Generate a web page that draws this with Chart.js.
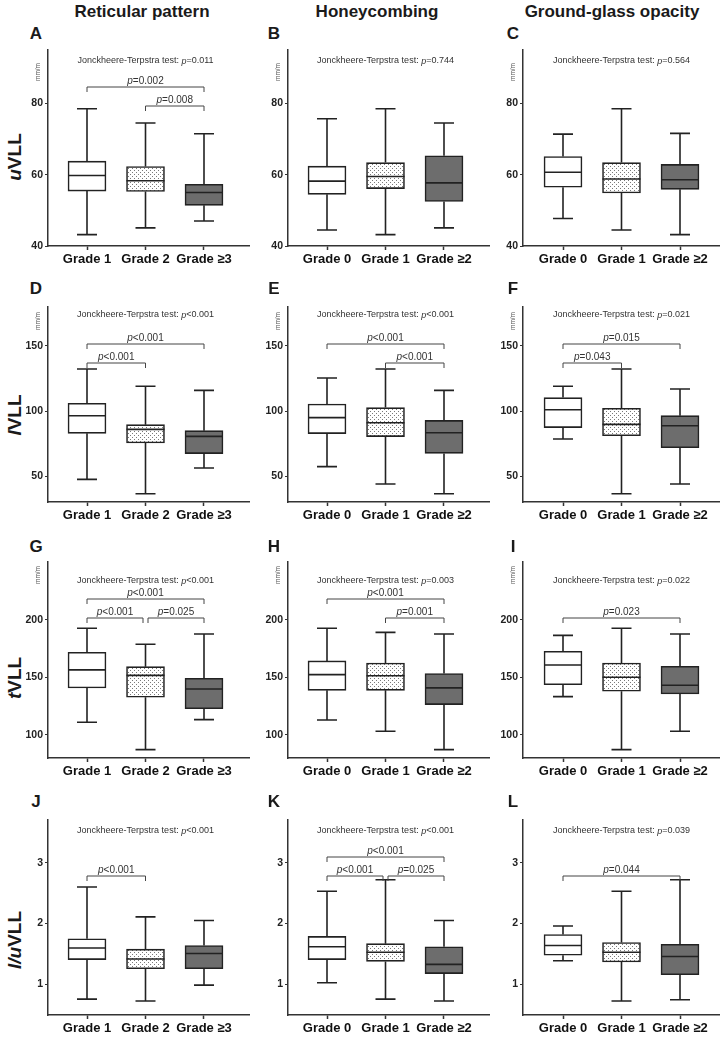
<!DOCTYPE html>
<html>
<head>
<meta charset="utf-8">
<script src="https://cdn.jsdelivr.net/npm/chart.js@4.4.1/dist/chart.umd.min.js"></script>
<style>
  body { margin: 0; background: #fff; }
  #wrap { position: relative; width: 722px; height: 1039px; overflow: hidden; font-family: "Liberation Sans", Arial, sans-serif; color: #1a1a1a; }
  #wrap canvas { position: absolute; }
  .ttl, .let, .ytl { position: absolute; transform: translate(-50%, -50%); white-space: nowrap; font-weight: bold; }
  .ttl { top: 12px; font-size: 17px; }
  .let { font-size: 17px; }
  .ytl { font-size: 19px; transform: translate(-50%, -50%) rotate(-90deg); }
</style>
</head>
<body>
<div id="wrap">
  <div class="ttl" style="left:142px">Reticular pattern</div>
  <div class="ttl" style="left:377px">Honeycombing</div>
  <div class="ttl" style="left:612px">Ground-glass opacity</div>
  <div class="ytl" style="left:15px;top:157px"><i>u</i>VLL</div>
  <div class="ytl" style="left:15px;top:415px"><i>l</i>VLL</div>
  <div class="ytl" style="left:15px;top:678px"><i>t</i>VLL</div>
  <div class="ytl" style="left:15px;top:940px"><i>l/u</i>VLL</div>
</div>
<script>
// group labels
var gradesRet = ['Grade 1', 'Grade 2', 'Grade \u22653'];
var gradesOther = ['Grade 0', 'Grade 1', 'Grade \u22652'];

// each group: [whisker low, Q1, median, Q3, whisker high]
var boxA = [[43.2, 55.4, 59.8, 63.8, 78.5], [45.1, 55.3, 58.3, 62.3, 74.5], [47.0, 51.4, 55.0, 57.3, 71.5]];
var boxB = [[44.5, 54.5, 58.2, 62.4, 75.7], [43.2, 56.1, 59.5, 63.4, 78.5], [45.1, 52.5, 57.7, 65.3, 74.5]];
var boxC = [[47.7, 56.5, 60.7, 65.1, 71.4], [44.5, 54.9, 58.8, 63.4, 78.5], [43.2, 55.9, 58.6, 62.9, 71.6]];
var boxD = [[47.4, 82.8, 96.4, 105.9, 132.3], [36.4, 75.4, 85.9, 89.5, 119.0], [56.2, 67.2, 80.5, 84.9, 115.9]];
var boxE = [[57.2, 82.6, 94.9, 105.4, 125.4], [43.8, 80.3, 91.0, 102.6, 132.3], [36.4, 67.4, 83.3, 92.8, 115.9]];
var boxF = [[78.5, 87.2, 101.0, 110.3, 119.0], [36.4, 81.0, 89.7, 102.1, 132.3], [43.8, 71.8, 88.7, 96.4, 116.9]];
var boxG = [[111.0, 140.8, 156.4, 171.7, 192.5], [87.3, 132.7, 151.7, 159.2, 178.6], [113.3, 122.8, 139.9, 149.1, 187.6]];
var boxH = [[113.0, 138.7, 152.3, 164.2, 192.5], [103.2, 138.7, 151.4, 162.4, 189.0], [87.3, 126.3, 140.8, 153.2, 187.6]];
var boxI = [[133.2, 143.6, 160.7, 172.5, 186.4], [87.3, 137.9, 150.0, 162.4, 192.5], [103.2, 135.5, 143.1, 159.5, 187.6]];
var boxJ = [[0.76, 1.41, 1.60, 1.75, 2.60], [0.73, 1.26, 1.42, 1.58, 2.11], [0.99, 1.26, 1.51, 1.64, 2.05]];
var boxK = [[1.03, 1.41, 1.62, 1.79, 2.53], [0.76, 1.38, 1.53, 1.67, 2.72], [0.73, 1.18, 1.33, 1.62, 2.05]];
var boxL = [[1.39, 1.48, 1.64, 1.82, 1.96], [0.73, 1.37, 1.53, 1.69, 2.53], [0.75, 1.16, 1.46, 1.66, 2.72]];

// Jonckheere-Terpstra p per panel
var jtP = ['=0.011', '=0.744', '=0.564', '<0.001', '<0.001', '=0.021', '<0.001', '=0.003', '=0.022', '<0.001', '<0.001', '=0.039'];

// pairwise brackets [from group, to group, p]
var brA = [[1, 3, '=0.002'], [2, 3, '=0.008']];
var brB = [];
var brC = [];
var brD = [[1, 3, '<0.001'], [1, 2, '<0.001']];
var brE = [[1, 3, '<0.001'], [2, 3, '<0.001']];
var brF = [[1, 3, '=0.015'], [1, 2, '=0.043']];
var brG = [[1, 3, '<0.001'], [1, 2, '<0.001'], [2, 3, '=0.025']];
var brH = [[1, 3, '<0.001'], [2, 3, '=0.001']];
var brI = [[1, 3, '=0.023']];
var brJ = [[1, 2, '<0.001']];
var brK = [[1, 3, '<0.001'], [1, 2, '<0.001'], [2, 3, '=0.025']];
var brL = [[1, 3, '=0.044']];

// y axis per row
var yMin = [40, 30, 80, 0.5];
var yMax = [95, 180, 250, 3.7];
var yTicks = [[40, 60, 80], [50, 100, 150], [100, 150, 200], [1, 2, 3]];

// layout (pixels)
var rowTop = [50, 307, 562, 820];
var rowBot = [246, 502, 758, 1015];
var rowJt = [11, 8, 19, 11];
var rowMm = [22, 14, 13, null];
var rowLetter = [34, 289, 547, 802];
var colLeft = [0, 240, 480];
var colAxis = [48, 288, 523];
var colRight = [250, 490, 720];
var colLetter = [36, 274, 513];
var step = 58.5;
var padT = 14, xH = 28;
var font = '"Liberation Sans", Arial, sans-serif';

var boxes = [boxA, boxB, boxC, boxD, boxE, boxF, boxG, boxH, boxI, boxJ, boxK, boxL];
var brackets = [brA, brB, brC, brD, brE, brF, brG, brH, brI, brJ, brK, brL];
var letters = 'ABCDEFGHIJKL';

function drawMixed(ctx, parts, cx, cy, size, color) {
    var w = 0;
    parts.forEach(function (p) {
        ctx.font = (p[1] ? 'italic ' : '') + size + 'px ' + font;
        w += ctx.measureText(p[0]).width;
    });
    var xx = cx - w / 2;
    ctx.fillStyle = color;
    ctx.textBaseline = 'middle';
    ctx.textAlign = 'left';
    parts.forEach(function (p) {
        ctx.font = (p[1] ? 'italic ' : '') + size + 'px ' + font;
        ctx.fillText(p[0], xx, cy);
        xx += ctx.measureText(p[0]).width;
    });
}

function drawExtras(chart, k, r) {
    var ctx = chart.ctx, x = chart.scales.x, y = chart.scales.y, area = chart.chartArea;
    var box = boxes[k];
    ctx.save();
    ctx.strokeStyle = '#222';
    ctx.lineWidth = 1.6;
    box.forEach(function (b, i) {
        var cx = x.getPixelForValue(i + 1);
        ctx.beginPath();
        ctx.moveTo(cx, y.getPixelForValue(b[4]));
        ctx.lineTo(cx, y.getPixelForValue(b[3]));
        ctx.moveTo(cx, y.getPixelForValue(b[1]));
        ctx.lineTo(cx, y.getPixelForValue(b[0]));
        ctx.moveTo(cx - 10, y.getPixelForValue(b[4]));
        ctx.lineTo(cx + 10, y.getPixelForValue(b[4]));
        ctx.moveTo(cx - 10, y.getPixelForValue(b[0]));
        ctx.lineTo(cx + 10, y.getPixelForValue(b[0]));
        ctx.moveTo(cx - 19, y.getPixelForValue(b[2]));
        ctx.lineTo(cx + 19, y.getPixelForValue(b[2]));
        ctx.stroke();
    });

    drawMixed(ctx, [['Jonckheere-Terpstra test: ', false], ['p', true], [jtP[k], false]],
        x.getPixelForValue(2), area.top + rowJt[r], 9, '#333');

    var br = brackets[k];
    ctx.strokeStyle = '#444';
    ctx.lineWidth = 1;
    br.forEach(function (b) {
        var wide = (b[1] - b[0]) > 1 && br.length > 1;
        var by = area.top + (wide ? 37 : 56);
        var x1 = x.getPixelForValue(b[0]), x2 = x.getPixelForValue(b[1]);
        br.forEach(function (o) {
            if (o === b || (o[1] - o[0]) !== (b[1] - b[0])) return;
            if (o[0] === b[1]) x2 -= 2.5;
            if (o[1] === b[0]) x1 += 2.5;
        });
        ctx.beginPath();
        ctx.moveTo(x1, by + 5);
        ctx.lineTo(x1, by);
        ctx.lineTo(x2, by);
        ctx.lineTo(x2, by + 5);
        ctx.stroke();
        drawMixed(ctx, [['p', true], [b[2], false]], (x1 + x2) / 2, by - 6, 10, '#333');
    });

    if (rowMm[r] !== null) {
        ctx.translate(area.left - 10, area.top + rowMm[r]);
        ctx.rotate(-Math.PI / 2);
        ctx.font = '6.5px ' + font;
        ctx.fillStyle = '#555';
        ctx.textAlign = 'center';
        ctx.textBaseline = 'middle';
        ctx.fillText('mm/m', 0, 0);
    }
    ctx.restore();
}

var wrap = document.getElementById('wrap');

boxes.forEach(function (box, k) {
    var r = Math.floor(k / 3), c = k % 3;
    var grades = c === 0 ? gradesRet : gradesOther;

    var lt = document.createElement('div');
    lt.className = 'let';
    lt.style.left = colLetter[c] + 'px';
    lt.style.top = rowLetter[r] + 'px';
    lt.textContent = letters[k];
    wrap.appendChild(lt);

    var cv = document.createElement('canvas');
    var w = colRight[c] - colLeft[c];
    var h = rowBot[r] - rowTop[r] + padT + xH;
    cv.width = w; cv.height = h;
    cv.style.left = colLeft[c] + 'px';
    cv.style.top = (rowTop[r] - padT) + 'px';
    cv.style.width = w + 'px'; cv.style.height = h + 'px';
    wrap.appendChild(cv);

    // stippled fill for the middle group
    var pc = document.createElement('canvas');
    pc.width = 4; pc.height = 4;
    var pctx = pc.getContext('2d');
    pctx.fillStyle = '#fff';
    pctx.fillRect(0, 0, 4, 4);
    pctx.fillStyle = '#7a7a7a';
    pctx.fillRect(0, 0, 1, 1);
    pctx.fillRect(2, 2, 1, 1);
    var dots = cv.getContext('2d').createPattern(pc, 'repeat');

    var yw = colAxis[c] - colLeft[c];
    var xmin = 1 - (c === 2 ? 40 : 39) / step;
    var xmax = xmin + (colRight[c] - colAxis[c]) / step;

    new Chart(cv, {
        type: 'bar',
        data: {
            datasets: [{
                data: box.map(function (b, i) { return { x: i + 1, y: [b[1], b[3]] }; }),
                backgroundColor: ['#ffffff', dots, '#6d6d6d'],
                borderColor: '#222',
                borderWidth: 1.6,
                borderSkipped: false,
                barThickness: 38
            }]
        },
        options: {
            responsive: false,
            animation: false,
            events: [],
            layout: { padding: { top: padT, left: 0, right: 0, bottom: 0 } },
            plugins: { legend: { display: false }, tooltip: { enabled: false } },
            scales: {
                x: {
                    type: 'linear', min: xmin, max: xmax, offset: false,
                    afterBuildTicks: function (s) { s.ticks = [1, 2, 3].map(function (v) { return { value: v }; }); },
                    afterFit: function (s) { s.height = xH; },
                    ticks: {
                        callback: function (v) { return grades[v - 1]; },
                        font: { family: font, size: 13, weight: 'bold' }, color: '#111',
                        padding: 2, maxRotation: 0, autoSkip: false
                    },
                    grid: { offset: false, drawOnChartArea: false, tickLength: 4, tickColor: '#333', tickWidth: 1.5 },
                    border: { color: '#333', width: 1.5 }
                },
                y: {
                    min: yMin[r], max: yMax[r],
                    afterBuildTicks: function (s) { s.ticks = yTicks[r].map(function (v) { return { value: v }; }); },
                    afterFit: function (s) { s.width = yw; },
                    ticks: { font: { family: font, size: 10.5, weight: 'bold' }, color: '#222', padding: 2 },
                    grid: { drawOnChartArea: false, tickLength: 3, tickColor: '#333', tickWidth: 1.2 },
                    border: { color: '#333', width: 1.5 }
                }
            }
        },
        plugins: [{ id: 'extras', afterDatasetsDraw: function (chart) { drawExtras(chart, k, r); } }]
    });
});
</script>
</body>
</html>
